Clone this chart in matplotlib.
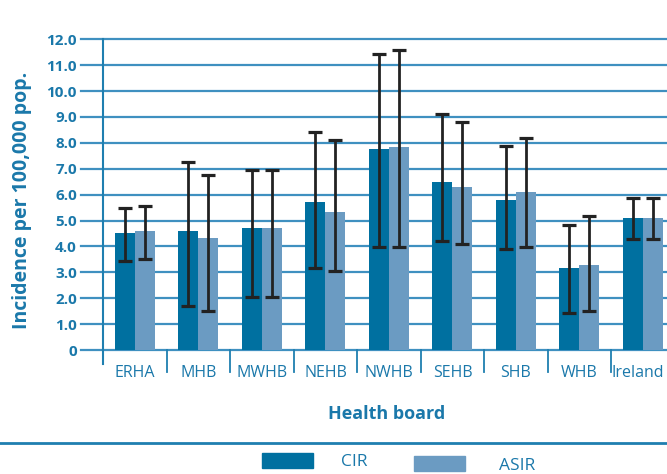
import matplotlib.pyplot as plt
from matplotlib.patches import Rectangle
from matplotlib.lines import Line2D
from matplotlib.transforms import ScaledTranslation
import numpy as np

plt.rcParams['font.family'] = ['Open Sans', 'DejaVu Sans']

boards = ["ERHA", "MHB", "MWHB", "NEHB", "NWHB", "SEHB", "SHB", "WHB", "Ireland"]

cir = [4.53, 4.61, 4.71, 5.71, 7.76, 6.49, 5.79, 3.17, 5.08]
cir_lo = [3.44, 1.71, 2.06, 3.18, 3.98, 4.20, 3.89, 1.42, 4.30]
cir_hi = [5.47, 7.26, 6.96, 8.43, 11.45, 9.10, 7.87, 4.83, 5.87]

asir = [4.61, 4.32, 4.71, 5.33, 7.84, 6.29, 6.10, 3.28, 5.08]
asir_lo = [3.50, 1.51, 2.06, 3.04, 3.98, 4.09, 3.99, 1.52, 4.30]
asir_hi = [5.56, 6.76, 6.96, 8.12, 11.58, 8.79, 8.17, 5.16, 5.87]

yticks = [0, 1, 2, 3, 4, 5, 6, 7, 8, 9, 10, 11, 12]
ytick_labels = ["0"] + ["%.1f" % v for v in yticks[1:]]

dark = '#0070a0'
light = '#6b9bc2'
txt = '#1a78aa'
grid = '#3f90c0'

fig = plt.figure(figsize=(6.67, 4.74), dpi=100)
ax = fig.add_axes([81 / 667, 1 - 350 / 474, 586 / 667, 310.7 / 474])

x = np.arange(len(boards))
w = 0.315

for v in yticks:
    ax.axhline(v, color=grid, lw=1.6, zorder=1, clip_on=False)

ax.bar(x - w / 2, cir, w, color=dark, zorder=2)
ax.bar(x + w / 2, asir, w, color=light, zorder=2)

cir_a = np.array(cir)
asir_a = np.array(asir)
ax.errorbar(x - w / 2, cir_a, yerr=[cir_a - np.array(cir_lo), np.array(cir_hi) - cir_a],
            fmt='none', ecolor='#222222', elinewidth=2, capsize=4.9, capthick=2.3, zorder=3)
ax.errorbar(x + w / 2, asir_a, yerr=[asir_a - np.array(asir_lo), np.array(asir_hi) - asir_a],
            fmt='none', ecolor='#222222', elinewidth=2, capsize=4.9, capthick=2.3, zorder=3)

# y axis line and category separators
ax.plot([-0.5, -0.5], [-0.55, 12], color='#1f7fb0', lw=1.5, clip_on=False, zorder=1)
for s in x[:-1] + 0.5:
    ax.plot([s, s], [0, -0.85], color='#1f7fb0', lw=1.3, clip_on=False, zorder=1)

ax.set_xlim(-0.85, 8.378)
ax.set_ylim(0, 12)
for sp in ax.spines.values():
    sp.set_visible(False)

ax.set_xticks(x)
ax.set_xticklabels(boards, fontsize=11.5, color=txt)
ax.set_yticks(yticks)
ax.set_yticklabels(ytick_labels, fontsize=11, fontweight='bold', color=txt)
ax.tick_params(axis='both', length=0)
ax.tick_params(axis='x', pad=11)
ax.tick_params(axis='y', pad=3)
# nudge the last label so it stays inside the figure
last = ax.get_xticklabels()[-1]
last.set_transform(last.get_transform() + ScaledTranslation(-5 / 100, 0, fig.dpi_scale_trans))

fig.text(22 / 667, 1 - 200 / 474, "Incidence per 100,000 pop.", rotation=90,
         ha='center', va='center', fontsize=14, fontweight='bold', color=txt)
fig.text(387 / 667, 1 - 414 / 474, "Health board", ha='center', va='center',
         fontsize=13, fontweight='bold', color=txt)

fig.add_artist(Line2D([0, 1], [1 - 442.5 / 474] * 2, color='#1f7fb0', lw=2))

# legend
fig.add_artist(Rectangle((262 / 667, 1 - 467.5 / 474), 51 / 667, 14.5 / 474, color=dark))
fig.text(341 / 667, 1 - 461.5 / 474, "CIR", ha='left', va='center', fontsize=12.5, color=txt)
fig.add_artist(Rectangle((414 / 667, 1 - 471 / 474), 51 / 667, 15 / 474, color=light))
fig.text(499 / 667, 1 - 465.5 / 474, "ASIR", ha='left', va='center', fontsize=12.5, color=txt)

fig.savefig('out.png', dpi=100)
